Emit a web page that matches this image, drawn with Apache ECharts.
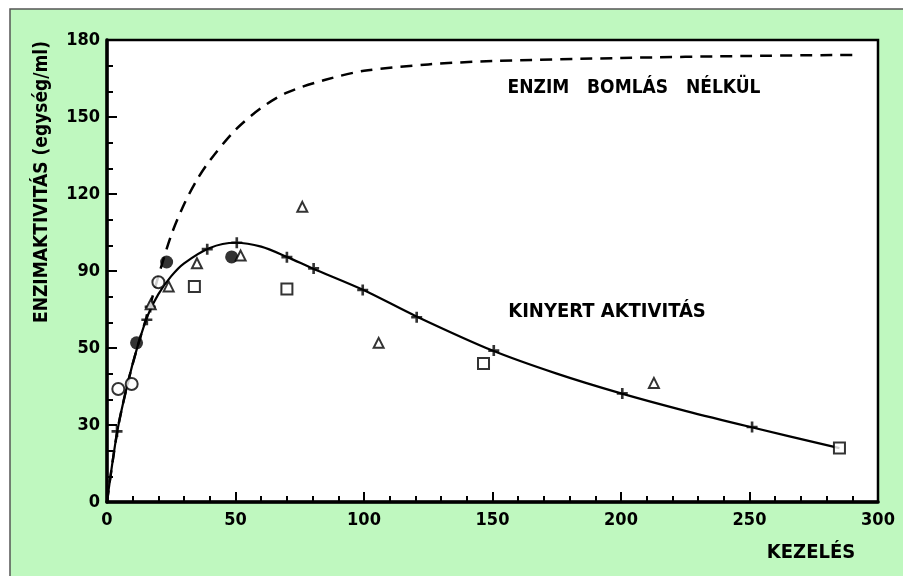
<!DOCTYPE html>
<html><head><meta charset="utf-8">
<script src="https://cdn.jsdelivr.net/npm/echarts@6/dist/echarts.min.js"></script>
<style>html,body{margin:0;padding:0;background:#fff}#c{width:903px;height:576px}</style>
</head><body><div id="c"></div>
<script>
// ---- data ----
const yTickLabels = ['0','30','50','90','120','150','180'];
const xTickLabels = ['0','50','100','150','200','250','300'];
const dashedCurve = [[0,0],[4,27.5],[8,46],[12,61],[16,74],[20,88],[25,104],[30,116],[35,125.5],[40,133],[50,145],[60,153.5],[70,159.5],[85,164.5],[100,168],[125,170.5],[150,171.8],[200,173],[250,173.8],[290,174.2]];
const solidCurve = [[0,0],[4,27.5],[8,46],[12,61],[16,73],[20,81],[25,88],[30,93],[40,99],[50,101],[60,99.5],[70,95.5],[80,91],[100,82.5],[120,72.5],[150,59],[175,50],[200,42.3],[225,35.5],[250,29.3],[285,21]];
const plusPoints = [[3.9,27.5],[15.5,71],[16.8,76],[39,98.5],[50.5,101],[70,95.4],[80.4,91],[99.5,82.6],[120.5,72],[150.5,59],[200.5,42.3],[251,29.2]];
const openCircles = [[4.4,44],[9.6,46],[20,85.6]];
const filledCircles = [[11.5,62],[23.2,93.5],[48.5,95.5]];
const triangles = [[17,77],[24,84],[35,93],[52,96],[76,115],[105.7,62],[212.8,46.4]];
const squares = [[34,84],[70,83],[146.5,54],[285,21]];

const FONT = 'DejaVu Sans Condensed';
const chart = echarts.init(document.getElementById('c'), null, {renderer:'canvas'});
const plusPath = 'path://M3.8,0H6.2V3.8H10V6.2H6.2V10H3.8V6.2H0V3.8H3.8Z';
chart.setOption({
  backgroundColor: '#ffffff',
  animation: false,
  graphic: [
    {type:'rect', z:-10, shape:{x:10,y:9,width:900,height:580}, style:{fill:'#bff8bf', stroke:'#555', lineWidth:1.5}},
    {type:'text', x:42, y:182, rotation:Math.PI/2, style:{text:'ENZIMAKTIVITÁS (egység/ml)', font:'bold 19px "'+FONT+'"', fill:'#000', align:'center', verticalAlign:'middle'}},
    {type:'text', x:634, y:88, style:{text:'ENZIM   BOMLÁS   NÉLKÜL', font:'bold 19px "'+FONT+'"', fill:'#000', align:'center', verticalAlign:'middle'}},
    {type:'text', x:607, y:312, style:{text:'KINYERT AKTIVITÁS', font:'bold 20px "'+FONT+'"', fill:'#000', align:'center', verticalAlign:'middle'}},
    {type:'text', x:811, y:553, style:{text:'KEZELÉS', font:'bold 20px "'+FONT+'"', fill:'#000', align:'center', verticalAlign:'middle'}}
  ],
  grid: {left:107, top:40, right:25, bottom:74, show:true, backgroundColor:'#fff', borderColor:'#000', borderWidth:2.5},
  xAxis: {type:'value', min:0, max:300, interval:50,
    axisLine:{lineStyle:{color:'#000', width:3.5}},
    axisTick:{inside:true, length:10, lineStyle:{color:'#000', width:2}},
    minorTick:{show:true, splitNumber:5, length:6, lineStyle:{color:'#000', width:2}},
    splitLine:{show:false},
    axisLabel:{color:'#000', fontFamily:FONT, fontWeight:'bold', fontSize:18, margin:9,
      formatter:(v)=>xTickLabels[Math.round(v/50)]}
  },
  yAxis: {type:'value', min:0, max:180, interval:30,
    axisLine:{lineStyle:{color:'#000', width:3.5}},
    axisTick:{inside:true, length:10, lineStyle:{color:'#000', width:2}},
    minorTick:{show:true, splitNumber:3, length:6, lineStyle:{color:'#000', width:2}},
    splitLine:{show:false},
    axisLabel:{color:'#000', fontFamily:FONT, fontWeight:'bold', fontSize:18, margin:7,
      formatter:(v)=>yTickLabels[Math.round(v/30)]}
  },
  series: [
    {type:'line', data:dashedCurve, smooth:0.3, showSymbol:false, lineStyle:{color:'#000', width:2.5, type:[12,8]}, z:2},
    {type:'line', data:solidCurve, smooth:0.3, showSymbol:false, lineStyle:{color:'#000', width:2.2}, z:3},
    {type:'scatter', data:plusPoints, symbol:plusPath, symbolSize:11, itemStyle:{color:'#000'}, z:4},
    {type:'scatter', data:openCircles, symbol:'circle', symbolSize:12, itemStyle:{color:'#fff', borderColor:'#000', borderWidth:2}, z:5},
    {type:'scatter', data:filledCircles, symbol:'circle', symbolSize:13, itemStyle:{color:'#000'}, z:5},
    {type:'scatter', data:triangles, symbol:'triangle', symbolSize:10, itemStyle:{color:'#fff', borderColor:'#000', borderWidth:2}, z:5},
    {type:'scatter', data:squares, symbol:'rect', symbolSize:11, itemStyle:{color:'#fff', borderColor:'#000', borderWidth:2}, z:5}
  ]
});
</script></body></html>
